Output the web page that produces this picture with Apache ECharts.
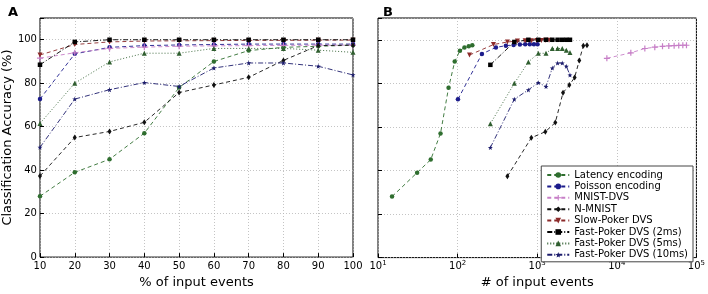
<!DOCTYPE html>
<html>
<head>
<meta charset="utf-8">
<script src="https://cdn.jsdelivr.net/npm/echarts@6/dist/echarts.min.js"></script>
<style>
  html, body { margin: 0; padding: 0; background: #fff; }
  #chart { width: 708px; height: 294px; }
</style>
</head>
<body>
<div id="chart"></div>
<script>
// panel A: accuracy vs % of input events
const pctEvents = [10, 20, 30, 40, 50, 60, 70, 80, 90, 100];
const latencyAcc = [28, 39, 45, 57, 78, 90, 95, 96.5, 97, 97.5];
const poissonAcc = [72.7, 93.5, 96.5, 97.3, 97.6, 97.8, 98, 98, 98, 98];
const mnistDvsAcc = [91.5, 94, 96, 96.6, 97, 97.2, 97.3, 97.4, 97.5, 97.5];
const nMnistAcc = [37.3, 55, 57.8, 62, 75.7, 79.2, 82.7, 90.5, 97.3, 97.5];
const slowPokerAcc = [93, 97.8, 99, 99.4, 99.5, 99.6, 99.7, 99.7, 99.8, 99.8];
const fast2Acc = [88.5, 99, 100, 100, 100, 100, 100, 100, 100, 100];
const fast5Acc = [61.5, 80, 89.8, 93.8, 93.8, 96, 96, 96, 95.2, 94.2];
const fast10Acc = [50.5, 72.7, 77, 80.3, 78.5, 87, 89.3, 89.3, 87.8, 83.8];

// panel B: number of input events for each point
const latencyEvents = [15, 31, 46, 61, 77, 92, 107, 122, 138, 153];
const poissonEvents = [101, 202, 303, 404, 505, 606, 707, 808, 909, 1010];
const mnistDvsEvents = [7500, 15000, 22500, 30000, 37500, 45000, 52500, 60000, 67500, 75000];
const nMnistEvents = [422, 844, 1266, 1688, 2110, 2532, 2954, 3376, 3798, 4220];
const slowPokerEvents = [141, 282, 423, 564, 705, 846, 987, 1128, 1269, 1410];
const fast2Events = [258, 516, 774, 1032, 1290, 1548, 1806, 2064, 2322, 2580];
const fast5Events = [258, 516, 774, 1032, 1290, 1548, 1806, 2064, 2322, 2580];
const fast10Events = [258, 516, 774, 1032, 1290, 1548, 1806, 2064, 2322, 2580];

const accTicks = [0, 20, 40, 60, 80, 100];
// exponent of each decade label on the log axis
const logTickExp = { 10: '1', 100: '2', 1000: '3', 10000: '4', 100000: '5' };

const FONT = 'DejaVu Sans';
const DASH = [4, 3];
const DASHDOT = [5, 2, 1, 2];
const DOT = [1, 2];

const STAR = 'path://M5,0L6.2,3.5L10,3.6L7,6L8.1,9.6L5,7.5L1.9,9.6L3,6L0,3.6L3.8,3.5z';
const PLUS = 'path://M4,0h2v4h4v2h-4v4h-2v-4h-4v-2h4z';

const styles = [
  { name: 'Latency encoding', a: latencyAcc, ev: latencyEvents, color: '#2f6e2f', dash: DASH, symbol: 'circle', size: 4.5 },
  { name: 'Poisson encoding', a: poissonAcc, ev: poissonEvents, color: '#1c1c8c', dash: DASH, symbol: 'circle', size: 4.5 },
  { name: 'MNIST-DVS', a: mnistDvsAcc, ev: mnistDvsEvents, color: '#c77fc7', dash: DASH, symbol: PLUS, size: 6 },
  { name: 'N-MNIST', a: nMnistAcc, ev: nMnistEvents, color: '#111111', dash: DASH, symbol: 'diamond', size: [4, 6] },
  { name: 'Slow-Poker DVS', a: slowPokerAcc, ev: slowPokerEvents, color: '#8c2a2a', dash: DASH, symbol: 'triangle', size: 5, rotate: 180 },
  { name: 'Fast-Poker DVS (2ms)', a: fast2Acc, ev: fast2Events, color: '#000000', dash: DASHDOT, symbol: 'rect', size: 4.5 },
  { name: 'Fast-Poker DVS (5ms)', a: fast5Acc, ev: fast5Events, color: '#2f5e2f', dash: DOT, symbol: 'triangle', size: 5 },
  { name: 'Fast-Poker DVS (10ms)', a: fast10Acc, ev: fast10Events, color: '#1c1c6c', dash: DASHDOT, symbol: STAR, size: 5 }
];

function makeSeries(s, idx, xs) {
  return {
    name: s.name,
    type: 'line',
    xAxisIndex: idx,
    yAxisIndex: idx,
    data: xs.map((x, i) => [x, s.a[i]]),
    symbol: s.symbol,
    symbolSize: s.size,
    symbolRotate: s.rotate || 0,
    showAllSymbol: true,
    animation: false,
    itemStyle: { color: s.color },
    lineStyle: { color: s.color, width: 0.9, type: s.dash }
  };
}

const gridLine = { show: true, lineStyle: { color: '#b5b5b5', type: [1, 2], width: 0.8 } };
const axisLine = { show: false };
const tickIn = { show: true, inside: true, length: 4, lineStyle: { color: '#000' } };

const yAxisBase = {
  type: 'value',
  min: 0,
  max: 110,
  interval: 20,
  axisLine: axisLine,
  axisTick: tickIn,
  splitLine: gridLine
};

const chart = echarts.init(document.getElementById('chart'));
chart.setOption({
  backgroundColor: '#fff',
  textStyle: { fontFamily: FONT },
  title: [
    { text: 'A', left: 3, top: 1, textStyle: { fontFamily: FONT, fontSize: 13, fontWeight: 'bold', color: '#000' } },
    { text: 'B', left: 378, top: 1, textStyle: { fontFamily: FONT, fontSize: 13, fontWeight: 'bold', color: '#000' } }
  ],
  grid: [
    { left: 33, top: 18, width: 320, height: 248, show: true, borderColor: '#000', borderWidth: 1, backgroundColor: 'transparent' },
    { left: 378, top: 18, width: 320, height: 248, show: true, borderColor: '#000', borderWidth: 1, backgroundColor: 'transparent' }
  ],
  legend: {
    orient: 'vertical',
    right: 15,
    top: 166,
    data: styles.map(s => s.name),
    backgroundColor: '#fff',
    borderColor: '#444',
    borderWidth: 1,
    padding: [4, 5, 2, 5],
    itemGap: 1.4,
    itemWidth: 22,
    itemHeight: 7,
    textStyle: { fontFamily: FONT, fontSize: 10, color: '#000', lineHeight: 10 },
    selectedMode: false
  },
  xAxis: [
    {
      type: 'value',
      gridIndex: 0,
      min: 10,
      max: 100,
      interval: 10,
      name: '% of input events',
      nameLocation: 'middle',
      nameGap: 18,
      nameTextStyle: { fontFamily: FONT, fontSize: 13, color: '#000' },
      axisLine: axisLine,
      axisTick: tickIn,
      axisLabel: { fontFamily: FONT, fontSize: 10, color: '#000', margin: 4 },
      splitLine: gridLine
    },
    {
      type: 'log',
      gridIndex: 1,
      logBase: 10,
      min: 10,
      max: 100000,
      name: '# of input events',
      nameLocation: 'middle',
      nameGap: 18,
      nameTextStyle: { fontFamily: FONT, fontSize: 13, color: '#000' },
      axisLine: axisLine,
      axisTick: tickIn,
      axisLabel: {
        fontFamily: FONT, fontSize: 10, color: '#000', margin: 2,
        formatter: v => {
          const e = logTickExp[Math.round(v)];
          return e ? '10{s|' + e + '}' : '';
        },
        rich: {
          s: { fontFamily: FONT, fontSize: 7, color: '#000', verticalAlign: 'top', padding: [0, 0, 6, 0] }
        }
      },
      splitLine: gridLine
    }
  ],
  yAxis: [
    Object.assign({}, yAxisBase, {
      gridIndex: 0,
      name: 'Classification Accuracy (%)',
      nameLocation: 'middle',
      nameGap: 22,
      nameTextStyle: { fontFamily: FONT, fontSize: 13, color: '#000' },
      axisLabel: {
        fontFamily: FONT, fontSize: 10, color: '#000', margin: 3,
        formatter: v => accTicks.indexOf(v) >= 0 ? String(v) : ''
      }
    }),
    Object.assign({}, yAxisBase, {
      gridIndex: 1,
      axisLabel: { show: false }
    })
  ],
  series: styles.map(s => makeSeries(s, 0, pctEvents))
    .concat(styles.map(s => makeSeries(s, 1, s.ev)))
});
</script>
</body>
</html>
